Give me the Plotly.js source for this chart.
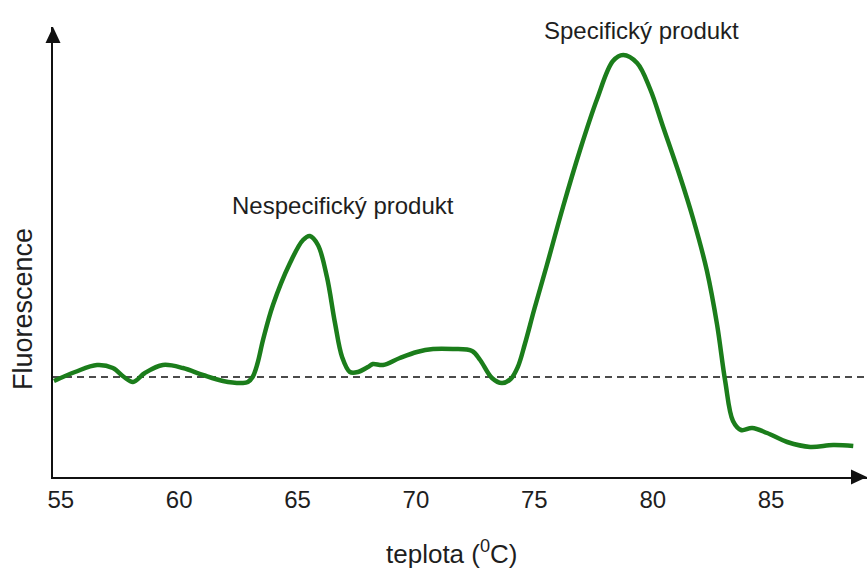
<!DOCTYPE html>
<html>
<head>
<meta charset="utf-8">
<script src="https://cdn.plot.ly/plotly-3.0.1.min.js"></script>
<style>html,body{margin:0;padding:0;background:#fff;}#chart{width:868px;height:568px;}</style>
</head>
<body>
<div id="chart"></div>
<script>
// Temperature (°C)
const teplota = [54.71,55.60,56.53,57.20,57.67,58.05,58.55,59.31,60.16,61.00,61.85,62.69,62.90,63.10,63.30,63.55,63.96,64.68,65.23,65.52,65.86,66.24,66.58,66.88,67.21,67.55,67.97,68.18,68.61,69.32,70.04,70.72,71.56,72.37,72.71,73.21,73.63,74.00,74.30,74.60,75.00,75.53,76.21,76.93,77.65,78.32,78.75,79.34,79.89,80.44,81.16,81.71,82.29,82.72,83.06,83.39,83.73,84.20,84.83,85.68,86.65,87.62,88.47];
// Fluorescence (arbitrary units)
const fluorescence = [0.96,1.05,1.12,1.09,1.00,0.95,1.04,1.12,1.09,1.02,0.96,0.94,0.95,1.00,1.13,1.38,1.72,2.14,2.37,2.41,2.32,2.00,1.54,1.20,1.05,1.05,1.10,1.13,1.12,1.19,1.25,1.28,1.28,1.26,1.17,0.99,0.94,0.98,1.10,1.33,1.68,2.12,2.70,3.27,3.78,4.16,4.22,4.14,3.88,3.50,3.00,2.58,2.06,1.52,0.96,0.56,0.47,0.49,0.44,0.35,0.30,0.32,0.31];
const baseline = 1.0;
const tickValues = [55,60,65,70,75,80,85];
const tickLabels = ["55","60","65","70","75","80","85"];
const peakLabels = ["Nespecifický produkt","Specifický produkt"];
const xTitle = "teplota (<sup>0</sup>C)";
const yTitle = "Fluorescence";

const W = 868, H = 568;
const mL = 53, mR = 1, mT = 27, mB = 91;
const pw = W - mL - mR, ph = H - mT - mB;
const txt = '#1e1e1e';
const fontFam = '"Liberation Sans", Arial, sans-serif';

const trace = {
  x: teplota, y: fluorescence, type: 'scatter', mode: 'lines',
  line: {color: '#1b7d1b', width: 4.5, shape: 'spline', smoothing: 1.0},
  hoverinfo: 'skip'
};

// arrowheads (decoration) in paper coordinates
const aL = 16, aHW = 7.5;
const yArrow = `M ${-aHW/pw} ${1 - aL/ph} L ${aHW/pw} ${1 - aL/ph} L 0 1 Z`;
const xArrow = `M ${1 - aL/pw} ${-aHW/ph} L ${1 - aL/pw} ${aHW/ph} L 1 0 Z`;

const layout = {
  width: W, height: H,
  margin: {l: mL, r: mR, t: mT, b: mB, pad: 0},
  paper_bgcolor: '#fff', plot_bgcolor: '#fff',
  showlegend: false,
  font: {family: fontFam, color: txt},
  xaxis: {
    range: [54.67, 89.05], showgrid: false, zeroline: false,
    showline: true, linecolor: '#111', linewidth: 2,
    tickmode: 'array', tickvals: tickValues, ticktext: tickLabels,
    ticks: '', tickfont: {size: 24, color: txt, family: fontFam},
    ticklabelstandoff: 0
  },
  yaxis: {
    range: [0, 4.5], showgrid: false, zeroline: false,
    showline: true, linecolor: '#111', linewidth: 2,
    showticklabels: false, ticks: ''
  },
  shapes: [
    {type: 'line', xref: 'paper', x0: 0, x1: 1, yref: 'y', y0: baseline, y1: baseline,
     line: {color: '#111', width: 1.3, dash: '7px,5px'}, layer: 'below'},
    {type: 'path', xref: 'paper', yref: 'paper', path: yArrow, fillcolor: '#111', line: {width: 0}},
    {type: 'path', xref: 'paper', yref: 'paper', path: xArrow, fillcolor: '#111', line: {width: 0}}
  ],
  annotations: [
    {x: 66.92, y: 2.72, xref: 'x', yref: 'y', text: peakLabels[0], showarrow: false,
     xanchor: 'center', yanchor: 'middle', font: {size: 24, color: txt}},
    {x: 79.51, y: 4.47, xref: 'x', yref: 'y', text: peakLabels[1], showarrow: false,
     xanchor: 'center', yanchor: 'middle', font: {size: 24, color: txt}},
    {x: (452 - mL)/pw, y: (mT + ph - 552)/ph, xref: 'paper', yref: 'paper', text: xTitle, showarrow: false,
     xanchor: 'center', yanchor: 'middle', font: {size: 26, color: txt}},
    {x: (23 - mL)/pw, y: (mT + ph - 309)/ph, xref: 'paper', yref: 'paper', text: yTitle, showarrow: false,
     textangle: -90, xanchor: 'center', yanchor: 'middle', font: {size: 27, color: txt}}
  ]
};

Plotly.newPlot('chart', [trace], layout, {staticPlot: true, displayModeBar: false});
</script>
</body>
</html>
